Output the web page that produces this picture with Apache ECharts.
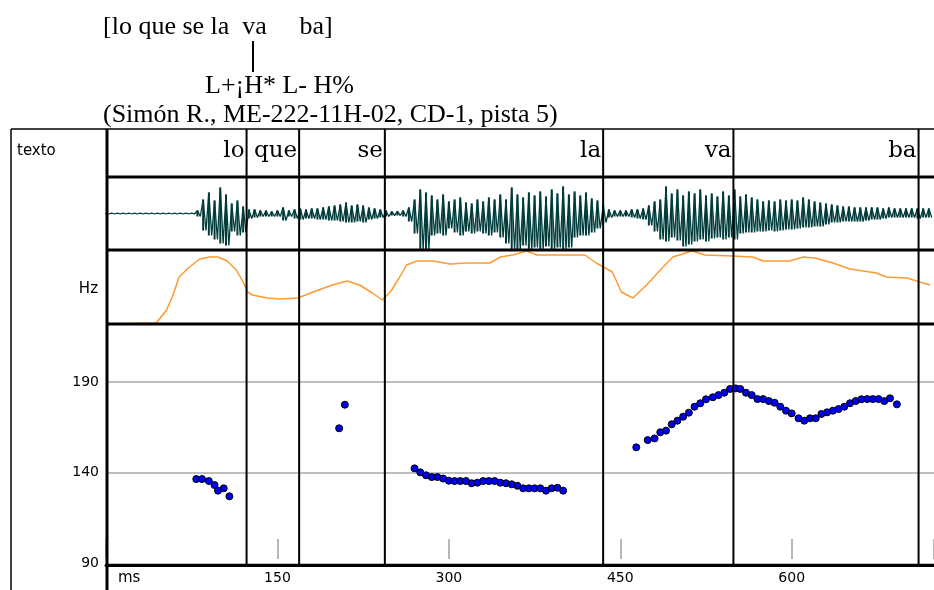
<!DOCTYPE html>
<html>
<head>
<meta charset="utf-8">
<script src="https://cdn.jsdelivr.net/npm/echarts@6/dist/echarts.min.js"></script>
<style>
html,body{margin:0;padding:0;background:#fff;}
#chart{width:934px;height:590px;}
</style>
</head>
<body>
<div id="chart"></div>
<script>
// tiempo visible (ms)
var msMax = 724.5;

// segmentacion silabica: fin de cada silaba en ms
var syllables = ['lo', 'que', 'se', 'la', 'va', 'ba'];
var syllableEndMs = [123, 169, 244, 435, 549, 711];

// marcas del eje de Hz
var hzTicks = [90, 140, 190];

// oscilograma: envolvente cada 5 ms (amplitud hacia arriba / hacia abajo)
var waveStepMs = 5;
var waveUp = [0.5,0.5,0.5,0.5,0.5,0.5,0.5,0.5,0.5,0.5,0.5,0.5,0.5,0.5,0.5,0.5,
    3,14,21,13,26,19,10,13,7,4,4,3,3,2,3,6,3,4,5,4,5,5,6,7,8,9,11,8,9,8,6,5,4,3,2,2,3,6,
    14,24,21,18,14,19,12,14,16,11,10,14,12,16,14,19,14,26,19,16,21,18,22,17,24,20,27,19,22,18,21,15,13,8,
    4,3,3,3,4,4,5,8,12,14,27,20,24,18,22,20,24,18,20,17,22,18,24,17,19,16,14,12,13,12,14,13,14,13,16,14,
    12,11,10,9,8,7,7,6,6,6,6,6,5,6,5,5,5,5,5,5,5];
var waveDown = [0.5,0.5,0.5,0.5,0.5,0.5,0.5,0.5,0.5,0.5,0.5,0.5,0.5,0.5,0.5,0.5,
    3,17,22,26,30,32,18,22,19,5,4,3,3,3,3,7,3,5,6,5,5,6,6,7,7,8,9,9,8,9,6,5,4,3,2,2,3,8,
    20,36,36,22,20,22,15,19,22,18,20,18,20,22,19,24,30,36,36,32,36,34,36,33,36,34,36,34,24,22,22,19,15,9,
    4,3,3,3,4,5,6,12,18,26,28,24,27,33,31,28,26,28,25,24,26,24,26,20,19,19,18,18,17,18,17,16,16,15,14,14,
    13,13,11,9,9,8,8,8,8,7,6,6,5,4,4,4,4,4,5,4,4];

// curva naranja (fila Hz)
var curveMs = [0,44,53,58,64,73,82,91,98,106,114,120,124,128,141,152,168,181,198,211,222,233,242,250,257,263,272,286,301,316,336,345,356,368,377,419,429,443,451,461,473,485,496,513,524,548,566,575,598,610,620,636,651,674,683,701,712,721];
var curveVal = [0,1,14,27,47,57,65,67,67,63,54,42,32,29,26,25,26,32,39,43,39,31,24,34,47,59,63,63,60,61,61,67,69,73,69,69,61,52,32,26,39,54,67,73,69,68,67,63,63,67,66,61,55,51,47,46,42,39];

// F0 (Hz) por grupos
var loMs = [79, 84, 90, 95, 98, 103, 108];
var loHz = [136.5, 136.5, 135.4, 133.2, 130.1, 131.4, 127.0];
var seMs = [204, 209];
var seHz = [164.5, 177.5];
var laMs = [270,275,280,285,290,295,300,305,310,315,320,325,330,335,340,345,350,355,360,365,370,375,380,385,390,395,400];
var laHz = [142.4,140.2,138.6,137.6,137.6,136.8,135.6,135.4,135.4,135.4,134.2,134.5,135.4,135.4,135.4,134.5,134.2,133.6,132.8,131.4,131.4,131.4,131.4,130.1,131.4,131.7,130.1];
var vaMs = [464,474,480,485,490,495,500,505,510,515,520,525,531,536,541,546,551,555,560,565,570,575,580,585,590,595,600,606,611,616,621,626,631,636,641,646,651,656,661,666,671,676,681,686,692];
var vaHz = [154.0,158.0,158.9,162.3,163.2,166.7,168.7,170.9,173.1,176.4,178.3,180.5,181.6,182.8,184.1,186.2,186.5,186.2,184.1,182.8,180.6,180.6,179.5,178.6,176.4,174.2,172.7,170.0,168.7,170.0,170.0,172.4,173.3,174.2,175.1,176.4,178.3,179.5,180.5,180.6,180.6,180.6,179.5,181.0,177.7];

function pairs(xs, ys){
    var out = [];
    for(var i = 0; i < xs.length; i++) out.push([xs[i], ys[i]]);
    return out;
}

// zigzag + barras verticales del oscilograma
var waveData = [];
var waveBars = [];
for(var i = 0; i < waveUp.length; i++){
    waveData.push([i * waveStepMs, waveUp[i]]);
    waveData.push([i * waveStepMs + waveStepMs / 2, -waveDown[i]]);
    waveBars.push([i * waveStepMs, waveUp[i], -waveDown[i]]);
}

var pitchData = pairs(loMs, loHz).concat(pairs(seMs, seHz), pairs(laMs, laHz), pairs(vaMs, vaHz));

var sans = 'DejaVu Sans';
var titleFont = '26px "Liberation Serif"';

function hiddenX(idx){
    return {gridIndex: idx, type: 'value', min: 0, max: msMax, show: false};
}

var myChart = echarts.init(document.getElementById('chart'));
var option = {
    animation: false,
    backgroundColor: '#fff',
    grid: [
        {left: 106, right: 0, top: 129, height: 437},
        {left: 106, right: 0, top: 177, height: 73},
        {left: 106, right: 0, top: 250, height: 74},
        {left: 106, right: 0, top: 324, height: 239.4},
        {left: 106, right: 0, top: 539, height: 20}
    ],
    xAxis: [
        hiddenX(0), hiddenX(1), hiddenX(2),
        {
            gridIndex: 3, type: 'value', min: 0, max: msMax, interval: 150,
            offset: 2,
            axisLine: {lineStyle: {color: '#000', width: 3}},
            axisTick: {show: false},
            splitLine: {show: false},
            axisLabel: {
                margin: 6, color: '#000', fontFamily: sans, fontSize: 14, showMaxLabel: false,
                formatter: function(v){ return (v == 0 || v > 700) ? '' : v; }
            }
        },
        {
            gridIndex: 4, type: 'value', min: 0, max: msMax, interval: 150,
            axisLine: {show: false},
            axisTick: {inside: true, length: 20, lineStyle: {color: '#a0a0a0', width: 1.5}},
            axisLabel: {show: false},
            splitLine: {show: false}
        }
    ],
    yAxis: [
        {gridIndex: 0, min: 0, max: 1, show: false},
        {gridIndex: 1, min: -36.5, max: 36.5, show: false},
        {gridIndex: 2, min: 0, max: 74, show: false},
        {
            gridIndex: 3, type: 'value', min: hzTicks[0], max: 222, interval: 50,
            axisLine: {show: false},
            axisTick: {show: false},
            axisLabel: {margin: 7, color: '#000', fontFamily: sans, fontSize: 14, showMaxLabel: false},
            splitLine: {lineStyle: {color: '#a8a8a8', width: 1.5}}
        },
        {gridIndex: 4, min: 0, max: 1, show: false}
    ],
    graphic: [
        {type: 'text', left: 103, top: 14, z: 100, style: {text: '[lo que se la  va     ba]', font: titleFont, fill: '#000'}},
        {type: 'line', z: 100, shape: {x1: 253, y1: 41, x2: 253, y2: 72}, style: {stroke: '#000', lineWidth: 2}},
        {type: 'text', left: 205, top: 73, z: 100, style: {text: 'L+¡H* L- H%', font: titleFont, fill: '#000'}},
        {type: 'text', left: 103, top: 102, z: 100, style: {text: '(Simón R., ME-222-11H-02, CD-1, pista 5)', font: titleFont, fill: '#000'}},
        // marco
        {type: 'line', z: 100, shape: {x1: 11, y1: 129, x2: 934, y2: 129}, style: {stroke: '#000', lineWidth: 1.5}},
        {type: 'line', z: 100, shape: {x1: 11, y1: 129, x2: 11, y2: 590}, style: {stroke: '#000', lineWidth: 1.5}},
        {type: 'line', z: 100, shape: {x1: 107, y1: 129, x2: 107, y2: 590}, style: {stroke: '#000', lineWidth: 3}},
        {type: 'line', z: 100, shape: {x1: 107, y1: 177, x2: 934, y2: 177}, style: {stroke: '#000', lineWidth: 3}},
        {type: 'line', z: 100, shape: {x1: 107, y1: 250, x2: 934, y2: 250}, style: {stroke: '#000', lineWidth: 3}},
        {type: 'line', z: 100, shape: {x1: 107, y1: 324, x2: 934, y2: 324}, style: {stroke: '#000', lineWidth: 3}},
        {type: 'text', left: 17, top: 144, z: 100, style: {text: 'texto', font: '15px "DejaVu Sans"', fill: '#000'}},
        {type: 'text', right: 836, top: 282, z: 100, style: {text: 'Hz', font: '15px "DejaVu Sans"', fill: '#000'}},
        {type: 'text', left: 118, top: 571, z: 100, style: {text: 'ms', font: '15px "DejaVu Sans"', fill: '#000'}}
    ],
    series: [
        {
            type: 'line', xAxisIndex: 1, yAxisIndex: 1,
            data: waveData, showSymbol: false, symbol: 'none',
            lineStyle: {color: '#013c3c', width: 1.3}
        },
        {
            type: 'custom', xAxisIndex: 1, yAxisIndex: 1,
            data: waveBars,
            renderItem: function(params, api){
                var top = api.coord([api.value(0), api.value(1)]);
                var bot = api.coord([api.value(0), api.value(2)]);
                return {type: 'line', shape: {x1: top[0], y1: top[1], x2: bot[0], y2: bot[1]},
                    style: {stroke: '#013c3c', lineWidth: 2}};
            }
        },
        {
            type: 'line', xAxisIndex: 2, yAxisIndex: 2,
            data: pairs(curveMs, curveVal), showSymbol: false, symbol: 'none',
            lineStyle: {color: '#ff9a30', width: 1.5}
        },
        {
            type: 'custom', xAxisIndex: 0, yAxisIndex: 0, z: 4, clip: false,
            data: syllableEndMs.map(function(v){ return [v, 0]; }),
            renderItem: function(params, api){
                var x = api.coord([api.value(0), 0])[0];
                var cs = params.coordSys;
                return {
                    type: 'group',
                    children: [
                        {type: 'line', shape: {x1: x, y1: cs.y, x2: x, y2: cs.y + cs.height}, style: {stroke: '#000', lineWidth: 2}},
                        {type: 'text', x: x - 2, y: cs.y + 22, style: {
                            text: syllables[params.dataIndex], font: '23px "DejaVu Serif"', fill: '#000',
                            align: 'right', verticalAlign: 'middle'}}
                    ]
                };
            }
        },
        {
            type: 'scatter', xAxisIndex: 3, yAxisIndex: 3, z: 6,
            data: pitchData, symbol: 'circle', symbolSize: 7,
            itemStyle: {color: '#0000ee', borderColor: '#000', borderWidth: 1, opacity: 1}
        }
    ]
};
myChart.setOption(option, true);
</script>
</body>
</html>
